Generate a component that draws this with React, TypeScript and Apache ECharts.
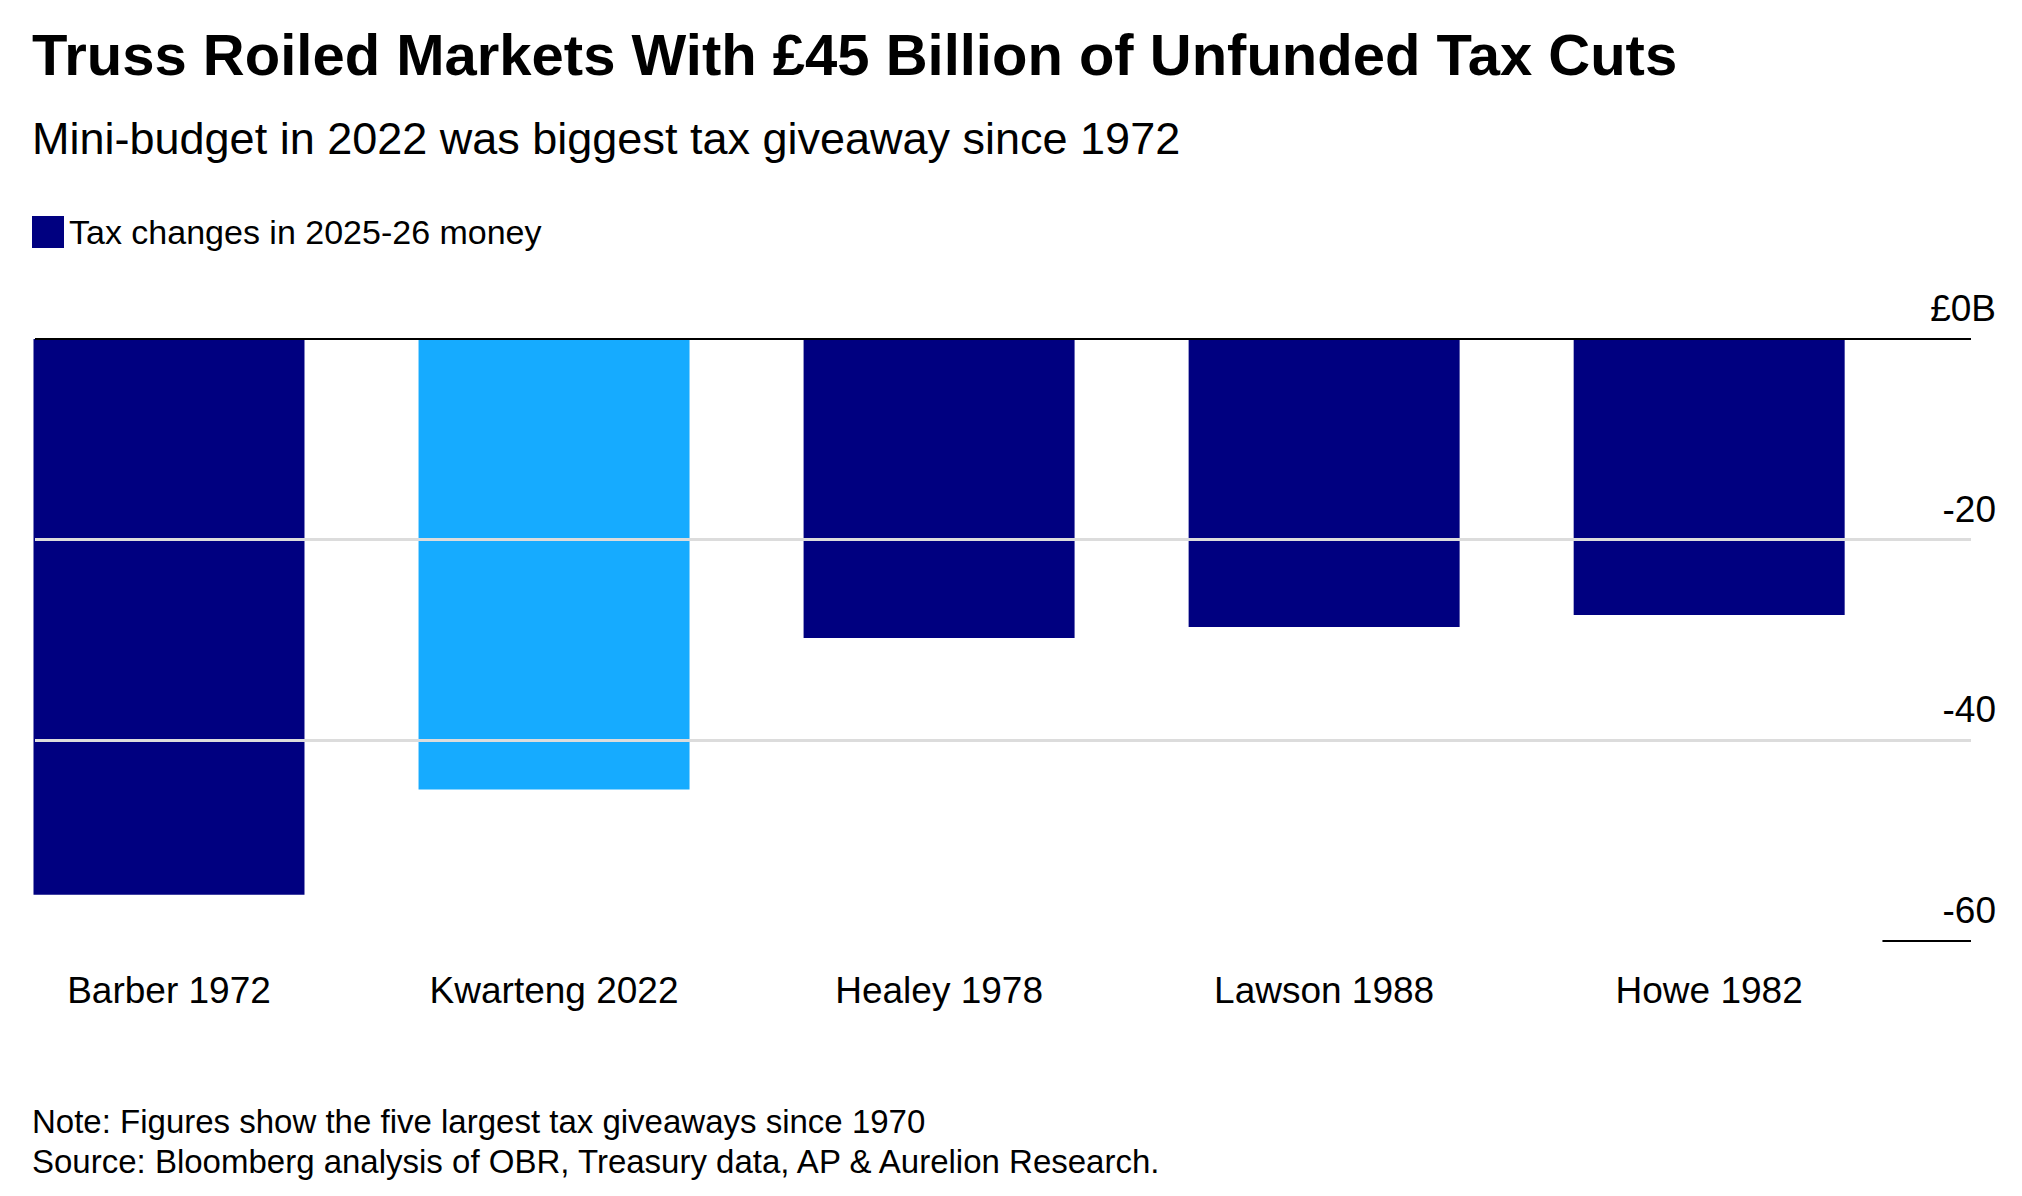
import React, { useEffect, useRef } from "react";
import * as echarts from "echarts";

const categories = ["Barber 1972", "Kwarteng 2022", "Healey 1978", "Lawson 1988", "Howe 1982"];
const taxChanges = [-55.4, -44.9, -29.8, -28.7, -27.5];
const highlight = "Kwarteng 2022";
const gridLevels = [-20, -40];

const FONT = "'Liberation Sans', Arial, Helvetica, sans-serif";

const App: React.FC = () => {
  const chartRef = useRef<HTMLDivElement | null>(null);

  useEffect(() => {
    if (!chartRef.current) return;
    const myChart = echarts.init(chartRef.current, undefined, { renderer: "svg" });
    const idx = categories.map((_, i) => i);

    const option = {
      animation: false,
      textStyle: { fontFamily: FONT },
      title: [
        {
          text: "Truss Roiled Markets With £45 Billion of Unfunded Tax Cuts",
          left: 19,
          top: 12,
          textStyle: { fontSize: 58, fontWeight: "bold", color: "#000", fontFamily: FONT },
        },
        {
          text: "Mini-budget in 2022 was biggest tax giveaway since 1972",
          left: 19,
          top: 103,
          textStyle: { fontSize: 45, fontWeight: "normal", color: "#000", fontFamily: FONT },
        },
        {
          text:
            "Note: Figures show the five largest tax giveaways since 1970\nSource: Bloomberg analysis of OBR, Treasury data, AP & Aurelion Research.",
          left: 19,
          top: 1088,
          textStyle: { fontSize: 33, fontWeight: "normal", color: "#000", lineHeight: 40, fontFamily: FONT },
        },
      ],
      legend: {
        left: 19,
        top: 202,
        itemWidth: 32,
        itemHeight: 32,
        itemGap: 20,
        icon: "rect",
        textStyle: { fontSize: 34, color: "#000", fontFamily: FONT },
        data: ["Tax changes in 2025-26 money"],
      },
      grid: { left: 27, right: 43, top: 331, bottom: 247 },
      xAxis: {
        type: "value",
        min: -0.348,
        max: 4.68,
        offset: 9,
        axisLine: { show: false },
        splitLine: { show: false },
        axisTick: { show: true, customValues: idx, length: 14, lineStyle: { color: "#000", width: 2 } },
        axisLabel: {
          customValues: idx,
          margin: 22,
          fontSize: 37,
          color: "#000",
          fontFamily: FONT,
          formatter: (v: number) => categories[Math.round(v)] ?? "",
        },
      },
      yAxis: {
        type: "value",
        position: "right",
        min: -60,
        max: 0,
        interval: 20,
        axisLine: { show: false },
        axisTick: { show: false },
        splitLine: { show: false },
        axisLabel: {
          inside: false,
          margin: 25,
          align: "right",
          verticalAlign: "bottom",
          padding: [0, 0, 12, 0],
          fontSize: 37,
          color: "#000",
          fontFamily: FONT,
          formatter: (v: number) => (v === 0 ? "£0B" : String(v)),
        },
      },
      series: [
        {
          type: "line",
          data: [],
          z: 1,
          silent: true,
          markLine: {
            symbol: "none",
            silent: true,
            label: { show: false },
            data: [
              ...gridLevels.map((g) => ({ yAxis: g, lineStyle: { color: "#dcdcdc", width: 3, type: "solid" } })),
              [
                { coord: [4.45, -60], lineStyle: { color: "#000", width: 2, type: "solid" } },
                { coord: [4.68, -60] },
              ],
            ],
          },
        },
        {
          name: "Tax changes in 2025-26 money",
          type: "bar",
          z: 2,
          barWidth: 271,
          itemStyle: { color: "#000080" },
          data: taxChanges.map((v, i) => ({
            value: [i, v],
            itemStyle: { color: categories[i] === highlight ? "#16abff" : "#000080" },
          })),
        },
        {
          type: "line",
          data: [],
          z: 3,
          silent: true,
          markLine: {
            symbol: "none",
            silent: true,
            label: { show: false },
            data: [{ yAxis: 0, lineStyle: { color: "#000", width: 2, type: "solid" } }],
          },
        },
      ],
    };

    myChart.setOption(option as any);
    return () => {
      myChart.dispose();
    };
  }, []);

  return <div ref={chartRef} style={{ width: "2006px", height: "1180px" }} />;
};

export default App;
